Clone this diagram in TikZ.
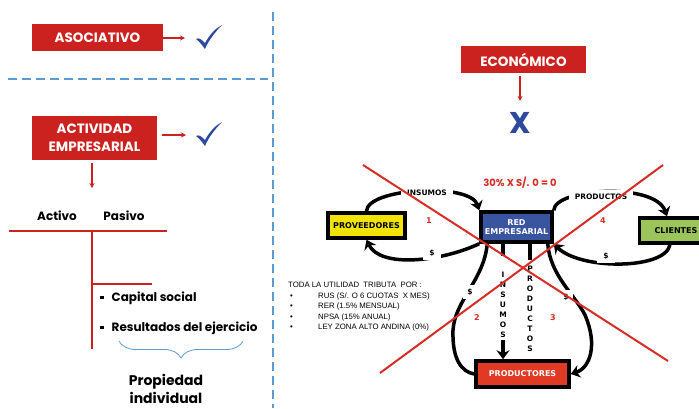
\documentclass[tikz,border=0pt]{standalone}
\usepackage{fontspec}
\setmainfont{Poppins}
\newfontfamily\boxfont{DejaVu Sans}
\newfontfamily\taxfont{Liberation Sans}
\usetikzlibrary{arrows.meta,positioning,decorations.pathreplacing}
\definecolor{boxred}{RGB}{204,34,31}
\definecolor{dashblue}{RGB}{91,155,213}
\definecolor{tickblue}{RGB}{46,74,158}
\definecolor{redblue}{RGB}{58,85,160}
\definecolor{provyellow}{RGB}{240,228,0}
\definecolor{cligreen}{RGB}{155,196,90}
\definecolor{prodred}{RGB}{224,58,36}
\definecolor{crossred}{RGB}{214,45,38}

\begin{document}
\begin{tikzpicture}[x=1pt, y=-1pt, >=Stealth,
  tag/.style={fill=boxred, text=white, inner sep=0pt, align=center,
    font=\fontsize{13.5}{18}\selectfont\bfseries},
  redarrow/.style={draw=boxred, line width=1.2pt, -{Stealth[length=5pt,width=5pt]}},
  sep/.style={draw=dashblue, line width=2.5pt, dash pattern=on 9pt off 5pt},
  tline/.style={draw=boxred, line width=1.5pt},
  unit/.style={draw=black, line width=3.5pt, inner sep=0pt, align=center,
    font=\boxfont\fontsize{8}{9.5}\selectfont\bfseries},
  flow/.style={draw=black, line width=3.5pt},
  flowarrow/.style={flow, -{Stealth[length=9pt,width=13pt,inset=3pt]}},
  lbl/.style={fill=white, inner xsep=6pt, inner ysep=4pt,
    font=\boxfont\fontsize{7.5}{9}\selectfont\bfseries},
  vlbl/.style={inner sep=1pt, align=center, font=\boxfont\fontsize{7.5}{10}\selectfont\bfseries},
  num/.style={text=crossred, font=\boxfont\fontsize{8}{9}\selectfont\bfseries},
  cross/.style={draw=crossred, line width=2pt},
  checkmark/.pic={
    \fill[tickblue] (-12,2) .. controls (-9,0) and (-6,3) .. (-3,6)
      .. controls (2,-3) and (8,-9) .. (14,-12)
      .. controls (8,-6) and (0,4) .. (-3,12)
      .. controls (-6,8) and (-9,4) .. cycle;
  }]
  \useasboundingbox (0,0) rectangle (699,408);
  \clip (0,0) rectangle (699,408);
  \fill[white] (0,0) rectangle (699,408);

  % left side
  \draw[sep] (273,12) -- (273,408);
  \draw[sep] (8,79) -- (268,79);

  \node[tag, minimum width=131pt, minimum height=27pt] (asoc) at (97.5,37.5) {ASOCIATIVO};
  \pic at (208,37) {checkmark};
  \coordinate (tick1) at (185,38);
  \draw[redarrow] (asoc.east |- tick1) -- (tick1);

  \node[tag, minimum width=125pt, minimum height=44pt] (activ) at (94.5,138) {ACTIVIDAD\\EMPRESARIAL};
  \pic at (208,134) {checkmark};
  \coordinate (tick2) at (186,135);
  \draw[redarrow, shorten <=5pt] (activ.east |- tick2) -- (tick2);
  \coordinate (tacc) at (92,188);
  \draw[redarrow, shorten <=3pt] (activ.south -| tacc) -- (tacc);

  \draw[tline] (9,231) -- (167,231) (92,231) -- (92,349) (92,284) -- (152,284);
  \node[font=\fontsize{12}{14}\selectfont\bfseries] (activo) at (57,216) {Activo};
  \node[font=\fontsize{12}{14}\selectfont\bfseries] (pasivo) at (124,216) {Pasivo};
  \node[anchor=west, inner sep=0pt, font=\fontsize{12}{14}\selectfont\bfseries] (capital) at (100,298)
    {\raisebox{2pt}{\rule{3.5pt}{3.5pt}}\hspace{8pt}Capital social};
  \node[anchor=west, inner sep=0pt, font=\fontsize{12}{14}\selectfont\bfseries] (result) at (100,328)
    {\raisebox{2pt}{\rule{3.5pt}{3.5pt}}\hspace{8pt}Resultados del ejercicio};
  \draw[dashblue, line width=0.8pt, decorate, decoration={brace, amplitude=17pt}] (243,341) -- (119,341);
  \node[align=center, font=\fontsize{14}{18}\selectfont\bfseries] (prop) at (166,389) {Propiedad\\individual};

  % right side
  \node[tag, minimum width=125pt, minimum height=27pt] (econ) at (523.5,59.5) {ECONÓMICO};
  \node[text=tickblue, font=\fontsize{30}{30}\selectfont\bfseries] (nox) at (520,123) {X};
  \draw[redarrow, shorten <=3pt] (econ.south -| nox) -- ([yshift=8pt]nox.north);
  \node[text=crossred, font=\fontsize{10}{12}\selectfont\bfseries] (pct) at (520,183) {30\% X S/. 0 = 0};

  \node[unit, fill=redblue, text=white, minimum width=71pt, minimum height=30pt] (red) at (516.5,227) {RED\\EMPRESARIAL};
  \node[unit, fill=provyellow, minimum width=77pt, minimum height=25pt] (prov) at (366.5,225.5) {PROVEEDORES};
  \node[unit, fill=cligreen, minimum width=73pt, minimum height=25pt] (cli) at (676,230.5) {CLIENTES};
  \node[unit, fill=prodred, text=white, minimum width=93pt, minimum height=26pt] (prodr) at (522.5,374) {PRODUCTORES};

  \draw[flowarrow] (prov.north) .. controls (367,188) and (470,182) .. (red.north west);
  \draw[flowarrow] (red.south west) .. controls (440,262) and (380,268) .. (prov.south);
  \draw[flowarrow] (red.north east) .. controls (555,188) and (655,182) .. ([xshift=-9pt]cli.north);
  \draw[flowarrow] ([xshift=-6pt]cli.south) .. controls (665,270) and (580,270) .. (red.south east);
  \draw[flow] ([xshift=8pt]red.south west) .. controls (484,280) and (455,300) .. (453,330)
    .. controls (452,360) and (462,372) .. (prodr.west);
  \draw[flowarrow] ([xshift=-6pt]red.south east) .. controls (550,275) and (575,295) .. (585,315)
    .. controls (598,345) and (590,368) .. (prodr.east);

  \node[lbl] (insl) at (427,193) {INSUMOS};
  \node[lbl] (prol) at (601,197) {PRODUCTOS};
  \node[lbl] (pay1) at (432,253) {\$};
  \node[lbl] (pay4) at (606,256) {\$};
  \node[lbl, inner xsep=4pt] (pay2) at (470,292) {\$};
  \node[lbl, inner xsep=4pt] (pay3) at (566,297) {\$};
  \node[num] (n1) at (429,221) {1};
  \node[num] (n4) at (603,221) {4};
  \node[num] (n2) at (477,318) {2};
  \node[num] (n3) at (553,318) {3};

  \node[vlbl] (insv) at (503,305) {I\\N\\S\\U\\M\\O\\S};
  \node[vlbl] (prov2) at (530,309) {P\\R\\O\\D\\U\\C\\T\\O\\S};
  \draw[flow] (insv.north |- red.south) -- ++(0,12);
  \draw[flow] (prov2.north |- red.south) -- ++(0,16);
  \draw[flowarrow] ([yshift=-1pt]insv.south) -- (insv.south |- prodr.north);

  \node[anchor=north west, align=left, inner sep=0pt, font=\taxfont\fontsize{7.8}{10.5}\selectfont] (tax) at (288,282)
    {TODA LA UTILIDAD~~TRIBUTA~~POR :\\
     \makebox[30pt][l]{\hspace{2pt}•}RUS (S/. O 6 CUOTAS~~X MES)\\
     \makebox[30pt][l]{\hspace{2pt}•}RER (1.5\% MENSUAL)\\
     \makebox[30pt][l]{\hspace{2pt}•}NPSA (15\% ANUAL)\\
     \makebox[30pt][l]{\hspace{2pt}•}LEY ZONA ALTO ANDINA (0\%)};

  \draw[cross] (363,165) -- (668,361);
  \draw[cross] (663,165) -- (380,373);
\end{tikzpicture}
\end{document}
